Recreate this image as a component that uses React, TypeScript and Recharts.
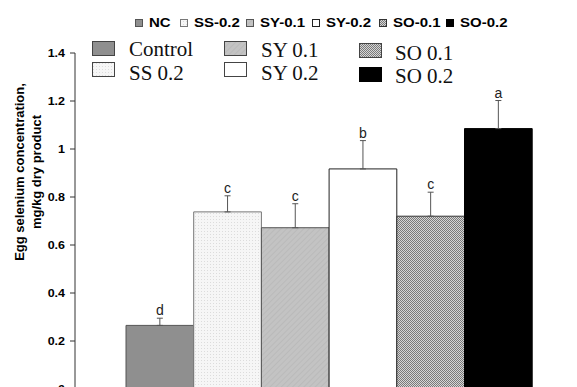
import React from 'react';
import { BarChart, Bar, XAxis, YAxis, ErrorBar, LabelList } from 'recharts';

const seriesKeys = ['NC', 'SS-0.2', 'SY-0.1', 'SY-0.2', 'SO-0.1', 'SO-0.2'];
const means = [0.265, 0.738, 0.672, 0.917, 0.72, 1.085];
const errors = [0.03, 0.067, 0.1, 0.118, 0.1, 0.117];
const letters = ['d', 'c', 'c', 'b', 'c', 'a'];
const yTicks = [0, 0.2, 0.4, 0.6, 0.8, 1, 1.2, 1.4];
const insetLabels = ['Control', 'SS 0.2', 'SY 0.1', 'SY 0.2', 'SO 0.1', 'SO 0.2'];

const fills = ['#8f8f8f', 'url(#pSS)', 'url(#pSY)', '#ffffff', 'url(#pSO)', '#000000'];
const strokes = ['#555', '#777', '#555', '#222', '#333', '#000'];

const row: Record<string, any> = { name: 'Egg selenium' };
seriesKeys.forEach((k, i) => {
  row[k] = means[i];
  row[k + '_err'] = [0, errors[i]];
});
const data = [row];

const FONT = 'Arial, "Liberation Sans", sans-serif';

const Patterns = () => (
  <defs>
    <pattern id="pSS" width="3" height="3" patternUnits="userSpaceOnUse">
      <rect width="3" height="3" fill="#f6f6f6" />
      <rect x="0" y="0" width="1" height="1" fill="#dcdcdc" />
    </pattern>
    <pattern id="pSY" width="4" height="4" patternUnits="userSpaceOnUse" patternTransform="rotate(45)">
      <rect width="4" height="4" fill="#c3c3c3" />
      <rect width="1" height="4" fill="#bababa" />
    </pattern>
    <pattern id="pSO" width="2" height="2" patternUnits="userSpaceOnUse">
      <rect width="2" height="2" fill="#d6d6d6" />
      <rect x="0" y="0" width="1" height="1" fill="#7a7a7a" />
      <rect x="1" y="1" width="1" height="1" fill="#7a7a7a" />
    </pattern>
  </defs>
);

const TopLegend = () => {
  const xs = [135, 180, 246, 312, 379, 446];
  return (
    <svg width={577} height={30} style={{ position: 'absolute', left: 0, top: 0 }}>
      <Patterns />
      {seriesKeys.map((k, i) => (
        <g key={k}>
          <rect x={xs[i] + 0.5} y={19.5} width={7} height={7} fill={fills[i]} stroke={strokes[i]} />
          <text
            transform={`translate(${xs[i] + 14},26.5) scale(1.25,1)`}
            fontFamily={FONT}
            fontWeight="bold"
            fontSize={12}
            fill="#000"
          >
            {k}
          </text>
        </g>
      ))}
    </svg>
  );
};

const InsetLegend = () => {
  const pos = [
    { sx: 92, sy: 41, tx: 129, ty: 56 },
    { sx: 92, sy: 62, tx: 129, ty: 80 },
    { sx: 224, sy: 41, tx: 261, ty: 57 },
    { sx: 224, sy: 62, tx: 261, ty: 80 },
    { sx: 359, sy: 43, tx: 395, ty: 59.5 },
    { sx: 359, sy: 67, tx: 395, ty: 83 },
  ];
  return (
    <svg width={577} height={100} style={{ position: 'absolute', left: 0, top: 0 }}>
      {insetLabels.map((t, i) => (
        <g key={t}>
          <rect x={pos[i].sx + 0.5} y={pos[i].sy + 0.5} width={22} height={14} fill={fills[i]} stroke={i === 5 ? '#000' : '#444'} />
          <text x={pos[i].tx} y={pos[i].ty} fontFamily='"Liberation Serif", "Times New Roman", serif' fontSize={21} fill="#111">
            {t}
          </text>
        </g>
      ))}
    </svg>
  );
};

const YTick = (props: any) => {
  const { x, y, payload } = props;
  return (
    <text
      transform={`translate(${x - 3},${y + 3.5}) scale(1.25,1)`}
      textAnchor="end"
      fontFamily={FONT}
      fontWeight="bold"
      fontSize={10}
      fill="#000"
    >
      {String(payload.value)}
    </text>
  );
};

const YLabel = () => (
  <g transform="translate(27,172) rotate(-90)">
    <text x={0} y={-3} textAnchor="middle" fontFamily={FONT} fontWeight="bold" fontSize={13} fill="#000">
      Egg selenium concentration,
    </text>
    <text x={0} y={14} textAnchor="middle" fontFamily={FONT} fontWeight="bold" fontSize={13} fill="#000">
      mg/kg dry product
    </text>
  </g>
);

const makeLetter = (i: number) => (props: any) => {
  const { x, y, width, height, value } = props;
  const pxPerUnit = height / value;
  const top = y - errors[i] * pxPerUnit;
  return (
    <text x={x + width / 2} y={top - 3} textAnchor="middle" fontFamily={FONT} fontSize={14} fill="#222">
      {letters[i]}
    </text>
  );
};

export default function App() {
  return (
    <div style={{ position: 'fixed', left: 0, top: 0, width: 577, height: 387, overflow: 'hidden', background: '#fff' }}>
      <BarChart
        width={640}
        height={420}
        data={data}
        margin={{ top: 53, right: 57, bottom: 31, left: 0 }}
        barGap={0}
      >
        <Patterns />
        <XAxis dataKey="name" type="category" hide />
        <YAxis
          type="number"
          domain={[0, 1.4]}
          ticks={yTicks}
          interval={0}
          width={75}
          axisLine={{ stroke: '#333' }}
          tickLine={{ stroke: '#333' }}
          tickSize={5}
          tick={<YTick />}
          label={<YLabel />}
        />
        {seriesKeys.map((k, i) => (
          <Bar
            key={k}
            dataKey={k}
            barSize={67.7}
            fill={fills[i]}
            stroke={strokes[i]}
            strokeWidth={1}
            isAnimationActive={false}
          >
            <ErrorBar dataKey={k + '_err'} width={3} stroke="#555" strokeWidth={1} direction="y" />
            <LabelList dataKey={k} content={makeLetter(i)} />
          </Bar>
        ))}
      </BarChart>
      <TopLegend />
      <InsetLegend />
    </div>
  );
}
